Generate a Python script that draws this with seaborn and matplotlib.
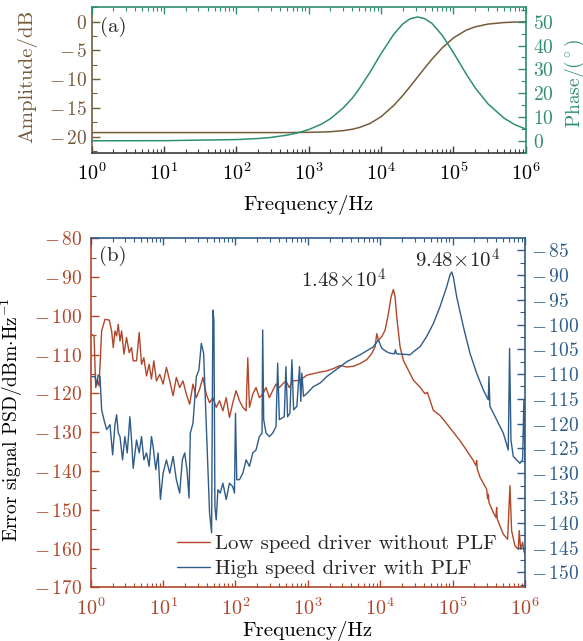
import numpy as np
import pandas as pd
import seaborn as sns
import matplotlib
matplotlib.use("Agg")
import matplotlib.pyplot as plt
from matplotlib.ticker import MultipleLocator, LogLocator, NullFormatter, FuncFormatter

# ---- panel (a): lead filter response ----
a_freq = [1, 10, 100, 200, 300, 500, 700, 1e3, 1.5e3, 2e3, 3e3, 4e3, 5e3, 7e3,
          1e4, 1.5e4, 2e4, 2.5e4, 3.2e4, 4e4, 5e4, 7e4, 1e5, 1.5e5, 2e5, 3e5,
          5e5, 7e5, 1e6]
a_amp = [-19.3, -19.3, -19.3, -19.3, -19.3, -19.3, -19.28, -19.26, -19.21, -19.15,
         -18.96, -18.72, -18.42, -17.73, -16.54, -14.57, -12.83, -11.34, -9.62,
         -8.08, -6.58, -4.55, -2.82, -1.48, -0.89, -0.42, -0.15, -0.07, -0.02]
a_phase = [0.0, 0.05, 0.5, 0.94, 1.4, 2.36, 3.3, 4.7, 7.0, 9.3, 13.8, 17.9, 21.9,
           28.7, 36.6, 44.8, 49.1, 51.2, 52.0, 51.3, 49.4, 44.3, 37.0, 28.0, 22.2,
           15.5, 9.5, 6.8, 4.9]

# ---- panel (b): error signal PSD (log10 of frequency, dB) ----
low_logf = [0.0, 0.046, 0.069, 0.092, 0.115, 0.151, 0.197, 0.257, 0.289, 0.312,
            0.335, 0.358, 0.381, 0.404, 0.427, 0.459, 0.495, 0.532, 0.564, 0.587,
            0.633, 0.670, 0.702, 0.734, 0.771, 0.807, 0.839, 0.872, 0.908, 0.954,
            1.000, 1.046, 1.092, 1.138, 1.183, 1.229, 1.275, 1.321, 1.367, 1.413,
            1.459, 1.505, 1.550, 1.596, 1.642, 1.688, 1.734, 1.780, 1.826, 1.872,
            1.917, 1.963, 2.009, 2.055, 2.101, 2.147, 2.170, 2.193, 2.239, 2.284,
            2.330, 2.376, 2.422, 2.468, 2.514, 2.560, 2.606, 2.651, 2.697, 2.743,
            2.789, 2.894, 2.986, 3.078, 3.170, 3.262, 3.354, 3.446, 3.538, 3.630,
            3.722, 3.814, 3.883, 3.929, 3.952, 3.975, 4.021, 4.067, 4.113, 4.150,
            4.182, 4.205, 4.228, 4.274, 4.320, 4.412, 4.458, 4.550, 4.619, 4.651,
            4.688, 4.734, 4.826, 4.918, 5.010, 5.102, 5.194, 5.286, 5.323, 5.332,
            5.341, 5.378, 5.470, 5.484, 5.493, 5.502, 5.562, 5.599, 5.608, 5.617,
            5.700, 5.760, 5.792, 5.815, 5.861, 5.907, 5.921, 5.939, 5.967, 5.985,
            6.0]
low_psd = [-104.7, -105.2, -118.5, -116.8, -118.1, -103.9, -100.9, -101.1, -103.9,
           -108.2, -103.9, -105.2, -102.2, -106.5, -103.9, -109.9, -105.6, -109.5,
           -108.2, -111.6, -111.6, -104.3, -112.5, -110.8, -115.5, -112.5, -116.3,
           -111.6, -116.8, -115.1, -117.6, -113.3, -116.8, -120.6, -115.9, -118.5,
           -116.8, -120.2, -122.8, -117.6, -121.1, -118.9, -115.9, -120.2, -122.4,
           -121.1, -123.6, -121.9, -124.5, -121.1, -126.2, -122.4, -119.3, -121.9,
           -123.6, -124.5, -110.8, -123.6, -120.2, -118.5, -121.1, -120.2, -118.5,
           -121.1, -119.3, -117.6, -118.5, -117.6, -116.8, -118.5, -116.8, -116.6,
           -115.3, -114.9, -114.5, -114.2, -113.6, -112.8, -113.2, -113.0, -112.3,
           -111.3, -109.7, -108.0, -104.6, -106.3, -105.4, -103.7, -99.4, -95.1,
           -93.2, -95.1, -100.3, -108.0, -111.5, -114.9, -116.6, -118.4, -120.1,
           -119.7, -121.8, -124.4, -125.7, -127.8, -130.0, -132.2, -134.7, -137.3,
           -138.6, -137.3, -139.5, -141.6, -144.7, -147.2, -146.0, -148.1, -150.7,
           -152.0, -149.4, -152.4, -156.3, -157.6, -143.8, -155.4, -159.3, -160.2,
           -155.4, -160.2, -158.4, -160.6, -161.5]

high_logf = [0.0, 0.060, 0.083, 0.101, 0.128, 0.151, 0.183, 0.220, 0.266, 0.303,
             0.335, 0.358, 0.381, 0.404, 0.440, 0.472, 0.505, 0.541, 0.564, 0.587,
             0.633, 0.670, 0.702, 0.734, 0.771, 0.807, 0.839, 0.862, 0.899, 0.931,
             0.963, 1.000, 1.046, 1.092, 1.138, 1.183, 1.229, 1.266, 1.298, 1.330,
             1.358, 1.376, 1.413, 1.459, 1.495, 1.528, 1.560, 1.596, 1.642, 1.670,
             1.688, 1.702, 1.716, 1.734, 1.757, 1.789, 1.826, 1.872, 1.917, 1.963,
             1.986, 2.000, 2.018, 2.055, 2.101, 2.147, 2.193, 2.239, 2.284, 2.330,
             2.367, 2.376, 2.390, 2.422, 2.468, 2.514, 2.560, 2.583, 2.606, 2.674,
             2.697, 2.720, 2.752, 2.780, 2.803, 2.848, 2.885, 2.903, 2.917, 2.940,
             2.986, 3.032, 3.078, 3.170, 3.262, 3.354, 3.446, 3.538, 3.630, 3.722,
             3.814, 3.906, 3.975, 4.021, 4.090, 4.136, 4.196, 4.210, 4.224, 4.412,
             4.458, 4.550, 4.642, 4.734, 4.826, 4.918, 4.964, 4.987, 5.010, 5.056,
             5.148, 5.240, 5.332, 5.424, 5.493, 5.502, 5.516, 5.608, 5.700, 5.769,
             5.787, 5.806, 5.838, 5.930, 5.967, 5.985, 6.0]
high_psd = [-110.5, -110.5, -112.2, -110.2, -110.5, -117.2, -119.2, -121.2, -120.2,
            -126.3, -120.2, -118.2, -121.9, -122.6, -127.3, -122.6, -125.9, -118.6,
            -123.3, -129.0, -123.3, -125.9, -122.6, -127.3, -125.9, -128.6, -122.6,
            -124.6, -129.3, -125.9, -135.3, -130.0, -127.3, -130.0, -126.6, -131.3,
            -134.0, -127.3, -125.9, -129.3, -135.0, -121.9, -119.9, -110.5, -109.2,
            -103.8, -105.8, -119.9, -138.0, -142.0, -97.1, -99.1, -136.7, -139.4,
            -133.3, -134.0, -132.0, -135.3, -132.0, -132.7, -134.0, -117.9, -131.3,
            -131.3, -130.0, -127.3, -128.6, -125.9, -125.3, -122.6, -121.9, -101.1,
            -119.2, -121.9, -122.6, -121.9, -120.6, -107.8, -119.2, -118.6, -108.5,
            -118.6, -117.9, -107.1, -117.2, -116.5, -108.5, -115.5, -109.8, -114.5,
            -113.9, -113.2, -112.5, -111.8, -110.5, -109.5, -108.5, -107.5, -106.8,
            -106.1, -105.3, -104.5, -103.1, -104.8, -105.5, -105.8, -105.9, -105.1,
            -105.9, -106.1, -105.5, -104.5, -102.4, -99.8, -96.4, -92.4, -90.0,
            -89.4, -90.4, -94.4, -100.4, -105.8, -109.8, -113.2, -115.2, -110.5,
            -116.5, -119.2, -121.9, -125.3, -104.8, -123.3, -126.6, -128.0, -127.3,
            -115.2, -128.0]

peak_labels = [r"$1.48\!\times\!10^{4}$", r"$9.48\!\times\!10^{4}$"]
legend_labels = ["Low speed driver without PLF", "High speed driver with PLF"]

BROWN = "#745c3c"
GREEN = "#2e8f6c"
RED = "#b0472a"
BLUE = "#2f5c88"
DARK = "#3a3a3a"

sns.set_style("ticks")
plt.rcParams["font.family"] = ["cmr10", "DejaVu Serif"]
plt.rcParams["mathtext.fontset"] = "cm"
plt.rcParams["axes.formatter.use_mathtext"] = True
plt.rcParams["font.size"] = 15
plt.rcParams["axes.unicode_minus"] = True


def tex_num(v, pos):
    n = int(round(v))
    if n < 0:
        return r"$-\,%d$" % abs(n)
    return r"$%d$" % n


fig = plt.figure(figsize=(5.83, 6.41), dpi=100)
axa = fig.add_axes([0.157, 0.7618, 0.745, 0.2277])
axa2 = axa.twinx()
axb = fig.add_axes([0.1556, 0.0838, 0.7449, 0.5445])
axb2 = axb.twinx()

dfa = pd.DataFrame({"f": a_freq, "amp": a_amp, "phase": a_phase})
sns.lineplot(data=dfa, x="f", y="amp", ax=axa, color=BROWN, lw=1.1,
             estimator=None, sort=False)
sns.lineplot(data=dfa, x="f", y="phase", ax=axa2, color=GREEN, lw=1.1,
             estimator=None, sort=False)

dlow = pd.DataFrame({"f": np.power(10.0, low_logf), "psd": low_psd})
dhigh = pd.DataFrame({"f": np.power(10.0, high_logf), "psd": high_psd})
sns.lineplot(data=dlow, x="f", y="psd", ax=axb, color=RED, lw=1.0,
             estimator=None, sort=False, legend=False)
sns.lineplot(data=dhigh, x="f", y="psd", ax=axb2, color=BLUE, lw=1.0,
             estimator=None, sort=False, legend=False)


def style_pair(ax, ax2, lc, rc, bc, tc, bl_color):
    for a in (ax, ax2):
        a.set_xscale("log")
        a.set_xlim(1, 1e6)
        a.xaxis.set_major_locator(LogLocator(base=10, numticks=10))
        a.xaxis.set_minor_locator(LogLocator(base=10, subs=np.arange(2, 10), numticks=12))
        a.xaxis.set_minor_formatter(NullFormatter())
        a.yaxis.set_major_formatter(FuncFormatter(tex_num))
    ax2.set_xlabel("")
    ax.spines["top"].set_visible(False)
    ax.spines["right"].set_visible(False)
    ax2.spines["left"].set_visible(False)
    ax2.spines["bottom"].set_visible(False)
    ax.spines["left"].set_color(lc)
    ax.spines["bottom"].set_color(bc)
    ax2.spines["right"].set_color(rc)
    ax2.spines["top"].set_color(tc)
    for s in ("left", "bottom"):
        ax.spines[s].set_linewidth(1.2)
    for s in ("right", "top"):
        ax2.spines[s].set_linewidth(1.2)
    ax.tick_params(axis="x", which="both", direction="in", top=False, bottom=True,
                   color=bc, labelcolor=bl_color, pad=7, labelsize=14.5)
    ax.tick_params(axis="x", which="major", length=5, width=1.0)
    ax.tick_params(axis="x", which="minor", length=3, width=0.8)
    ax2.xaxis.set_visible(True)
    ax2.tick_params(axis="x", which="both", direction="in", top=True, bottom=False,
                    labeltop=False, labelbottom=False, color=tc)
    ax2.tick_params(axis="x", which="major", length=5, width=1.0)
    ax2.tick_params(axis="x", which="minor", length=3, width=0.8)
    ax.tick_params(axis="y", which="both", direction="in", color=lc, labelcolor=lc,
                   labelsize=14)
    ax.tick_params(axis="y", which="major", length=6, width=1.0)
    ax.tick_params(axis="y", which="minor", length=3.5, width=0.8)
    ax2.tick_params(axis="y", which="both", direction="in", color=rc, labelcolor=rc,
                    labelsize=14)
    ax2.tick_params(axis="y", which="major", length=6, width=1.0)
    ax2.tick_params(axis="y", which="minor", length=3.5, width=0.8)
    ax.set_facecolor("none")


# panel (a)
style_pair(axa, axa2, BROWN, GREEN, DARK, GREEN, "black")
axa.set_ylim(-22.8, 2.6)
axa.yaxis.set_major_locator(MultipleLocator(5))
axa.yaxis.set_minor_locator(MultipleLocator(2.5))
axa2.set_ylim(-5.0, 56.3)
axa2.yaxis.set_major_locator(MultipleLocator(10))
axa2.yaxis.set_minor_locator(MultipleLocator(5))
axa.tick_params(axis="y", pad=3)
axa2.tick_params(axis="y", pad=5)
axa.set_xlabel("Frequency/Hz", color="black")
axa.xaxis.set_label_coords(0.5, -0.29)
axa.set_ylabel("Amplitude/dB", color=BROWN)
axa.yaxis.set_label_coords(-0.124, 0.52)
axa2.set_ylabel(r"Phase/($^\circ$)", color=GREEN, fontsize=14)
axa2.yaxis.set_label_coords(1.086, 0.47)
axa.text(0.02, 0.86, "(a)", transform=axa.transAxes, ha="left", va="center")

# panel (b)
style_pair(axb, axb2, RED, BLUE, RED, BLUE, RED)
axb.set_ylim(-170, -80)
axb.yaxis.set_major_locator(MultipleLocator(10))
axb.yaxis.set_minor_locator(MultipleLocator(5))
axb2.set_ylim(-153, -82.6)
axb2.yaxis.set_major_locator(MultipleLocator(5))
axb2.yaxis.set_minor_locator(MultipleLocator(2.5))
axb.tick_params(axis="y", pad=6)
axb2.tick_params(axis="y", pad=4.5)
axb.set_xlabel("Frequency/Hz", color="black")
axb.xaxis.set_label_coords(0.5, -0.097)
axb.set_ylabel(r"Error signal PSD/dBm$\cdot$Hz$^{-1}$", color="black", fontsize=14)
axb.yaxis.set_label_coords(-0.151, 0.48)
axb.text(0.02, 0.949, "(b)", transform=axb.transAxes, ha="left", va="center")

i_low = int(np.argmax(low_psd))
i_high = int(np.argmax(high_psd))
axb.annotate(peak_labels[0], xy=(10 ** low_logf[i_low], low_psd[i_low]),
             xytext=(-36, 7), textcoords="offset points", ha="center", va="center")
axb2.annotate(peak_labels[1], xy=(10 ** high_logf[i_high], high_psd[i_high]),
              xytext=(4, 8.5), textcoords="offset points", ha="center", va="center")

handles = axb.get_lines()[:1] + axb2.get_lines()[:1]
axb2.legend(handles, legend_labels, loc="lower left", bbox_to_anchor=(0.176, 0.0),
            frameon=False, handlelength=1.6, handletextpad=0.25, labelspacing=0.3,
            borderaxespad=0.05)

fig.savefig("out.png", dpi=100)
